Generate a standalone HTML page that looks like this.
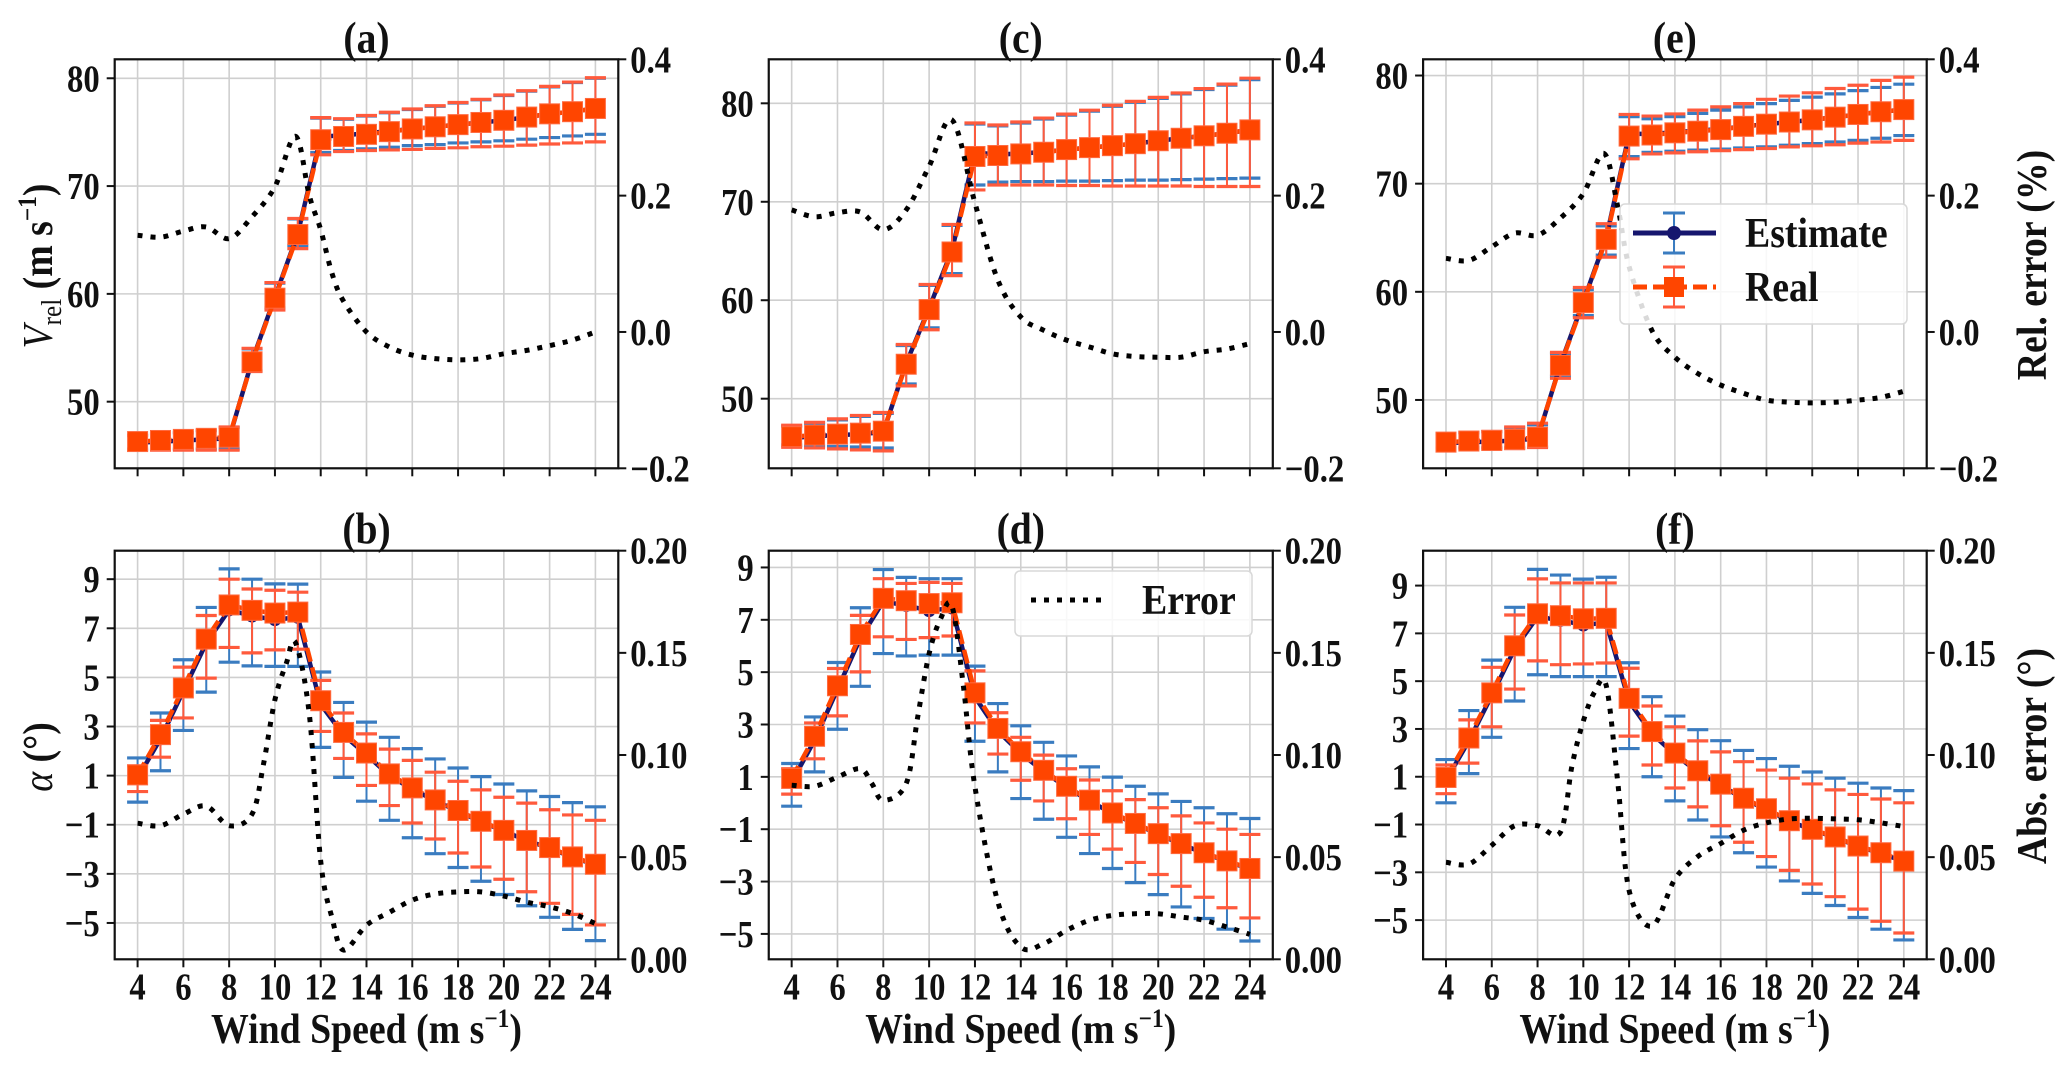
<!DOCTYPE html>
<html><head><meta charset="utf-8"><title>Wind speed estimate vs real</title>
<style>
html,body{margin:0;padding:0;background:#fff;}
svg{display:block;font-family:"Liberation Serif","DejaVu Serif",serif;font-weight:bold;}
</style></head>
<body>
<svg id="fig" xmlns="http://www.w3.org/2000/svg" width="2067" height="1070" viewBox="0 0 2067 1070">
<rect x="0" y="0" width="2067" height="1070" fill="#fff"/>
</svg>
<script>
const windSpeed=[4,5,6,7,8,9,10,11,12,13,14,15,16,17,18,19,20,21,22,23,24];
const xTicks=[4,6,8,10,12,14,16,18,20,22,24];
const vTicks=[50,60,70,80];
const alphaTicks=[-5,-3,-1,1,3,5,7,9];
const relTicks=[-0.2,0.0,0.2,0.4];
const absTicks=[0.00,0.05,0.10,0.15,0.20];

// Panel (a)
const aReal=[46.3,46.4,46.5,46.6,46.7,53.7,59.6,65.5,74.3,74.6,74.8,75.05,75.3,75.5,75.7,75.9,76.1,76.4,76.7,76.9,77.2];
const aEst=[46.2,46.3,46.4,46.5,46.6,53.8,59.7,65.6,74.6,74.7,74.9,75.1,75.3,75.5,75.7,75.9,76.1,76.4,76.7,76.9,77.2];
const aEstHi=[46.85,47.0,47.1,47.3,47.6,54.9,61.0,66.95,76.3,76.2,76.5,76.8,77.1,77.4,77.7,78.0,78.4,78.8,79.2,79.6,80.0];
const aEstLo=[45.6,45.6,45.6,45.6,45.6,52.9,58.7,64.5,73.1,73.3,73.45,73.6,73.75,73.85,74.0,74.1,74.2,74.35,74.5,74.65,74.8];
const aRealHi=[46.9,47.05,47.15,47.35,47.65,54.95,61.05,67.0,76.35,76.25,76.55,76.85,77.15,77.45,77.75,78.05,78.45,78.85,79.25,79.65,80.05];
const aRealLo=[45.5,45.5,45.5,45.5,45.5,52.8,58.5,64.2,72.9,73.2,73.3,73.35,73.4,73.5,73.55,73.65,73.7,73.8,73.9,74.0,74.1];
const aErrX=[4,5,6,7,8,9,10,10.9,11.5,12,12.5,13,14,15,16,17,18,19,20,21,22,23,24];
const aErrY=[0.142,0.139,0.148,0.154,0.137,0.169,0.213,0.287,0.2,0.15,0.085,0.045,0.0,-0.022,-0.034,-0.039,-0.041,-0.039,-0.032,-0.027,-0.02,-0.012,0.0];

// Panel (b)
const bReal=[1.03,2.67,4.57,6.56,7.95,7.73,7.62,7.66,4.05,2.76,1.92,1.07,0.5,0.01,-0.42,-0.86,-1.23,-1.64,-1.93,-2.31,-2.61];
const bEst=[0.9,2.5,4.45,6.4,7.75,7.5,7.35,7.45,3.9,2.65,1.85,1.0,0.45,-0.02,-0.45,-0.88,-1.25,-1.65,-1.95,-2.33,-2.63];
const bEstHi=[1.72,3.55,5.72,7.85,9.42,9.0,8.81,8.8,5.22,3.98,3.18,2.56,2.1,1.68,1.31,0.96,0.66,0.38,0.15,-0.1,-0.27];
const bEstLo=[-0.08,1.2,2.84,4.4,5.62,5.47,5.45,5.45,2.15,0.93,-0.04,-0.82,-1.53,-2.18,-2.74,-3.3,-3.84,-4.3,-4.77,-5.26,-5.72];
const bRealHi=[1.4,3.25,5.42,7.52,9.0,8.6,8.55,8.47,4.88,3.55,2.7,2.08,1.62,1.14,0.77,0.42,0.12,-0.12,-0.39,-0.6,-0.82];
const bRealLo=[0.35,1.75,3.35,4.97,6.22,6.0,6.12,6.15,2.8,1.7,0.6,-0.22,-0.93,-1.58,-2.15,-2.72,-3.22,-3.73,-4.2,-4.65,-5.08];
const bErrX=[4,5,6,7,8,9,9.5,10,10.5,10.9,11.5,12,12.5,13,14,15,16,17,18,19,20,21,22,23,24];
const bErrY=[0.0666,0.0654,0.071,0.075,0.0654,0.071,0.0955,0.127,0.145,0.155,0.12,0.048,0.02,0.0045,0.0167,0.023,0.029,0.032,0.033,0.033,0.031,0.028,0.0257,0.0224,0.0175];

// Panel (c)
const cReal=[46.14,46.3,46.4,46.5,46.7,53.5,59.05,64.9,74.6,74.7,74.86,75.03,75.3,75.5,75.7,75.9,76.2,76.45,76.7,76.96,77.3];
const cEst=[46.0,46.2,46.3,46.4,46.6,53.6,59.2,65.1,75.0,74.8,74.9,75.05,75.3,75.5,75.7,75.9,76.2,76.45,76.7,76.96,77.3];
const cEstHi=[47.2,47.5,47.85,48.2,48.5,55.4,61.5,67.6,77.9,77.7,78.0,78.4,78.8,79.2,79.7,80.1,80.5,80.95,81.4,81.85,82.4];
const cEstLo=[45.3,45.2,45.15,45.1,45.0,51.5,57.2,62.7,71.7,72.0,72.05,72.05,72.1,72.1,72.15,72.2,72.2,72.25,72.3,72.35,72.4];
const cRealHi=[47.3,47.6,47.95,48.3,48.6,55.5,61.6,67.7,78.0,77.8,78.1,78.5,78.9,79.3,79.8,80.2,80.6,81.05,81.5,81.95,82.55];
const cRealLo=[45.06,45.0,44.9,44.8,44.7,51.3,57.0,62.5,71.2,71.7,71.7,71.7,71.65,71.65,71.6,71.6,71.6,71.6,71.55,71.55,71.55];
const cErrX=[4,5,6,7,8,9,10,11,12,13,14,15,16,17,18,19,20,21,22,23,24];
const cErrY=[0.179,0.169,0.175,0.176,0.15,0.179,0.243,0.311,0.189,0.076,0.022,0.0025,-0.012,-0.022,-0.032,-0.036,-0.037,-0.037,-0.029,-0.025,-0.017];

// Panel (d)
const dReal=[0.94,2.55,4.48,6.44,7.82,7.73,7.62,7.65,4.21,2.85,1.96,1.25,0.64,0.11,-0.38,-0.78,-1.17,-1.55,-1.9,-2.21,-2.5];
const dEst=[0.8,2.4,4.35,6.3,7.7,7.55,7.35,7.45,4.05,2.75,1.9,1.2,0.6,0.08,-0.4,-0.8,-1.19,-1.57,-1.92,-2.23,-2.52];
const dEstHi=[1.51,3.29,5.37,7.46,8.92,8.62,8.57,8.57,5.23,3.8,2.95,2.32,1.8,1.38,0.99,0.64,0.35,0.06,-0.18,-0.41,-0.59];
const dEstLo=[-0.12,1.19,2.82,4.46,5.71,5.62,5.65,5.65,2.36,1.19,0.17,-0.62,-1.31,-1.93,-2.5,-3.04,-3.5,-3.97,-4.41,-4.82,-5.27];
const dRealHi=[1.31,3.06,5.14,7.17,8.57,8.39,8.43,8.39,5.05,3.45,2.51,1.83,1.31,0.88,0.47,0.13,-0.18,-0.49,-0.76,-1.0,-1.2];
const dRealLo=[0.34,1.69,3.33,5.01,6.35,6.25,6.32,6.38,3.06,1.87,0.87,0.08,-0.6,-1.2,-1.76,-2.27,-2.73,-3.18,-3.6,-4.0,-4.39];
const dErrX=[4,5,6,7,7.5,8,9,9.5,10,10.5,11,11.5,12,13,14,15,16,17,18,19,20,21,22,23,24];
const dErrY=[0.0852,0.0847,0.0892,0.0933,0.086,0.0778,0.086,0.1186,0.1496,0.1667,0.1728,0.1333,0.0843,0.028,0.006,0.0077,0.0142,0.0191,0.0215,0.0223,0.0223,0.0207,0.0191,0.0158,0.0122];

// Panel (e)
const eReal=[46.1,46.2,46.25,46.35,46.55,53.2,59.0,64.85,74.4,74.5,74.7,74.85,75.0,75.3,75.5,75.7,75.9,76.15,76.4,76.65,76.85];
const eEst=[46.0,46.1,46.15,46.25,46.45,53.3,59.1,65.0,74.6,74.6,74.75,74.9,75.05,75.3,75.5,75.7,75.9,76.15,76.4,76.65,76.85];
const eEstHi=[46.85,46.95,47.05,47.4,47.7,54.3,60.2,66.1,76.2,76.0,76.2,76.5,76.8,77.1,77.4,77.7,78.0,78.3,78.6,78.9,79.2];
const eEstLo=[45.6,45.6,45.6,45.6,45.7,52.2,57.8,63.4,72.5,72.9,73.0,73.1,73.2,73.3,73.4,73.55,73.7,73.85,74.0,74.2,74.45];
const eRealHi=[46.9,47.0,47.1,47.5,47.85,54.4,60.4,66.3,76.4,76.25,76.45,76.8,77.1,77.4,77.8,78.1,78.4,78.8,79.1,79.55,79.85];
const eRealLo=[45.5,45.5,45.5,45.5,45.6,52.0,57.6,63.2,72.3,72.75,72.85,72.95,73.05,73.15,73.25,73.4,73.5,73.6,73.75,73.85,74.0];
const eErrX=[4,5,6,7,8,9,10,10.9,11.5,12,13,14,15,16,17,18,19,20,21,22,23,24];
const eErrY=[0.108,0.105,0.125,0.145,0.142,0.167,0.203,0.262,0.184,0.096,0.002,-0.037,-0.061,-0.078,-0.09,-0.1,-0.103,-0.104,-0.103,-0.1,-0.096,-0.087];

// Panel (f)
const fReal=[0.97,2.62,4.51,6.48,7.82,7.74,7.61,7.63,4.28,2.89,1.99,1.25,0.69,0.1,-0.34,-0.84,-1.2,-1.52,-1.9,-2.18,-2.53];
const fEst=[0.85,2.5,4.4,6.35,7.7,7.55,7.35,7.45,4.15,2.8,1.93,1.2,0.65,0.07,-0.37,-0.86,-1.22,-1.54,-1.92,-2.2,-2.55];
const fEstHi=[1.72,3.77,5.88,8.09,9.68,9.44,9.27,9.35,5.77,4.35,3.54,2.97,2.51,2.1,1.76,1.44,1.2,0.94,0.73,0.53,0.42];
const fEstLo=[-0.09,1.13,2.65,4.17,5.27,5.19,5.19,5.19,2.18,1.0,-0.01,-0.81,-1.52,-2.18,-2.78,-3.36,-3.88,-4.39,-4.89,-5.38,-5.83];
const fRealHi=[1.49,3.38,5.58,7.77,9.28,9.11,9.11,9.11,5.54,3.96,3.09,2.5,2.04,1.63,1.28,0.94,0.7,0.45,0.26,0.07,-0.09];
const fRealLo=[0.29,1.57,3.09,4.67,5.85,5.69,5.72,5.76,2.7,1.49,0.53,-0.26,-1.05,-1.74,-2.34,-2.92,-3.49,-4.02,-4.54,-5.05,-5.54];
const fErrX=[4,5,6,7,8,9,9.5,10,10.5,11,11.5,12,13,14,15,16,17,18,19,20,21,22,23,24];
const fErrY=[0.0475,0.0466,0.0558,0.0654,0.0654,0.0622,0.0945,0.1166,0.131,0.134,0.087,0.0337,0.0162,0.0392,0.0503,0.0567,0.0632,0.0668,0.0687,0.069,0.0687,0.0683,0.0668,0.065];

const NS='http://www.w3.org/2000/svg';
const svg=document.getElementById('fig');
function mk(parent,tag,attrs,text){
  const el=document.createElementNS(NS,tag);
  for(const k in attrs) el.setAttribute(k,attrs[k]);
  if(text!==undefined) el.textContent=text;
  parent.appendChild(el);
  return el;
}
function txt(parent,x,y,anchor,size,str,scx){
  return mk(parent,'text',{x:0,y:0,transform:'translate('+x+','+y+') scale('+scx+',1)','text-anchor':anchor,'font-size':size,fill:'#111'},str);
}
const C_NAVY='#16166e', C_BLUE='#3a7cc0', C_OR='#ff4500', C_ORE='#ff5a3c';
const TICK_FS=38, TICK_SX=0.86;

function catmull(pts){
  let d='M'+pts[0][0].toFixed(1)+','+pts[0][1].toFixed(1);
  for(let i=0;i<pts.length-1;i++){
    const p0=pts[Math.max(0,i-1)],p1=pts[i],p2=pts[i+1],p3=pts[Math.min(pts.length-1,i+2)];
    const c1=[p1[0]+(p2[0]-p0[0])/6,p1[1]+(p2[1]-p0[1])/6];
    const c2=[p2[0]-(p3[0]-p1[0])/6,p2[1]-(p3[1]-p1[1])/6];
    d+=' C'+c1[0].toFixed(1)+','+c1[1].toFixed(1)+' '+c2[0].toFixed(1)+','+c2[1].toFixed(1)+' '+p2[0].toFixed(1)+','+p2[1].toFixed(1);
  }
  return d;
}

function panel(cfg,est,estLo,estHi,real,realLo,realHi,errX,errY){
  const g=mk(svg,'g',{});
  
  
  const L=cfg.L,R=cfg.R,T=cfg.T,B=cfg.B;
  const sx=v=>L+(v-3)/22*(R-L);
  const sy=v=>B-(v-cfg.yMin)/(cfg.yMax-cfg.yMin)*(B-T);
  const sr=v=>B-(v-cfg.rMin)/(cfg.rMax-cfg.rMin)*(B-T);
  const grid=mk(g,'g',{stroke:'#cfcfcf','stroke-width':1.6});
  
  
  xTicks.forEach(t=>{mk(grid,'line',{x1:sx(t),x2:sx(t),y1:T,y2:B});});
  cfg.yTicks.forEach(t=>{mk(grid,'line',{x1:L,x2:R,y1:sy(t),y2:sy(t)});});
  const ax=mk(g,'g',{stroke:'#111','stroke-width':2});
  
  
  xTicks.forEach(t=>{mk(ax,'line',{x1:sx(t),x2:sx(t),y1:B,y2:B+8});});
  cfg.yTicks.forEach(t=>{mk(ax,'line',{x1:L-8,x2:L,y1:sy(t),y2:sy(t)});});
  cfg.rTicks.forEach(t=>{mk(ax,'line',{x1:R,x2:R+8,y1:sr(t),y2:sr(t)});});
  const lab=mk(g,'g',{});
  
  
  if(cfg.bottom){
    xTicks.forEach(t=>{txt(lab,sx(t),B+40,'middle',TICK_FS,String(t),TICK_SX);});
    const xl=mk(g,'text',{x:0,y:0,transform:'translate('+((L+R)/2)+',1043) scale(0.9,1)','text-anchor':'middle','font-size':42,fill:'#111'});
    
    
    xl.appendChild(document.createTextNode('Wind Speed (m s'));
    mk(xl,'tspan',{dy:-16,'font-size':26},'−1');
    mk(xl,'tspan',{dy:16},')');
  }
  cfg.yTicks.forEach(t=>{txt(lab,L-15,sy(t)+13,'end',TICK_FS,String(t).replace('-','−'),TICK_SX);});
  cfg.rTicks.forEach(t=>{txt(lab,R+12,sr(t)+13,'start',TICK_FS,t.toFixed(cfg.rDec).replace('-','−'),TICK_SX);});
  const title=txt(g,(L+R)/2,T-7,'middle',44,'('+cfg.id+')',0.9);
  
  
  const cap=10.5;
  const eb=mk(g,'g',{stroke:C_BLUE,'stroke-width':2});
  
  
  windSpeed.forEach((w,i)=>{
    mk(eb,'line',{x1:sx(w),x2:sx(w),y1:sy(estLo[i]),y2:sy(estHi[i])});
    mk(eb,'line',{x1:sx(w)-cap,x2:sx(w)+cap,y1:sy(estLo[i]),y2:sy(estLo[i]),'stroke-width':3.2});
    mk(eb,'line',{x1:sx(w)-cap,x2:sx(w)+cap,y1:sy(estHi[i]),y2:sy(estHi[i]),'stroke-width':3.2});
  });
  const el=mk(g,'polyline',{points:windSpeed.map((w,i)=>sx(w)+','+sy(est[i])).join(' '),fill:'none',stroke:C_NAVY,'stroke-width':4.5});
  
  
  windSpeed.forEach((w,i)=>{
    const c=mk(g,'circle',{cx:sx(w),cy:sy(est[i]),r:6.5,fill:C_NAVY});
    
    
  });
  const rb=mk(g,'g',{stroke:C_ORE,'stroke-width':2});
  
  
  windSpeed.forEach((w,i)=>{
    mk(rb,'line',{x1:sx(w),x2:sx(w),y1:sy(realLo[i]),y2:sy(realHi[i])});
    mk(rb,'line',{x1:sx(w)-cap,x2:sx(w)+cap,y1:sy(realLo[i]),y2:sy(realLo[i]),'stroke-width':3.2});
    mk(rb,'line',{x1:sx(w)-cap,x2:sx(w)+cap,y1:sy(realHi[i]),y2:sy(realHi[i]),'stroke-width':3.2});
  });
  const rl=mk(g,'polyline',{points:windSpeed.map((w,i)=>sx(w)+','+sy(real[i])).join(' '),fill:'none',stroke:C_OR,'stroke-width':4.5,'stroke-dasharray':'14 6'});
  
  
  windSpeed.forEach((w,i)=>{
    const s=mk(g,'rect',{x:sx(w)-10,y:sy(real[i])-10,width:20,height:20,fill:C_OR,stroke:'#ff6a40','stroke-width':1});
    
    
  });
  const ep=mk(g,'path',{d:catmull(errX.map((x,i)=>[sx(x),sr(errY[i])])),fill:'none',stroke:'#000','stroke-width':5,'stroke-dasharray':'5 8'});
  
  
  const fr=mk(g,'rect',{x:L,y:T,width:R-L,height:B-T,fill:'none',stroke:'#111','stroke-width':2.2});
  
  
}

const topT=59.3,topB=468.3,botT=550.7,botB=959.3;
panel({id:'a',L:114.7,R:618.3,T:topT,B:topB,yMin:43.82,yMax:81.76,rMin:-0.2,rMax:0.4,yTicks:vTicks,rTicks:relTicks,rDec:1,bottom:false},aEst,aEstLo,aEstHi,aReal,aRealLo,aRealHi,aErrX,aErrY);
panel({id:'c',L:768.75,R:1272.8,T:topT,B:topB,yMin:42.93,yMax:84.47,rMin:-0.2,rMax:0.4,yTicks:vTicks,rTicks:relTicks,rDec:1,bottom:false},cEst,cEstLo,cEstHi,cReal,cRealLo,cRealHi,cErrX,cErrY);
panel({id:'e',L:1423.1,R:1926.7,T:topT,B:topB,yMin:43.68,yMax:81.5,rMin:-0.2,rMax:0.4,yTicks:vTicks,rTicks:relTicks,rDec:1,bottom:false},eEst,eEstLo,eEstHi,eReal,eRealLo,eRealHi,eErrX,eErrY);
panel({id:'b',L:114.7,R:618.3,T:botT,B:botB,yMin:-6.48,yMax:10.16,rMin:0,rMax:0.2,yTicks:alphaTicks,rTicks:absTicks,rDec:2,bottom:true},bEst,bEstLo,bEstHi,bReal,bRealLo,bRealHi,bErrX,bErrY);
panel({id:'d',L:768.75,R:1272.8,T:botT,B:botB,yMin:-5.97,yMax:9.64,rMin:0,rMax:0.2,yTicks:alphaTicks,rTicks:absTicks,rDec:2,bottom:true},dEst,dEstLo,dEstHi,dReal,dRealLo,dRealHi,dErrX,dErrY);
panel({id:'f',L:1423.1,R:1926.7,T:botT,B:botB,yMin:-6.64,yMax:10.46,rMin:0,rMax:0.2,yTicks:alphaTicks,rTicks:absTicks,rDec:2,bottom:true},fEst,fEstLo,fEstHi,fReal,fRealLo,fRealHi,fErrX,fErrY);

const yl1=mk(svg,'text',{x:0,y:0,transform:'translate(52,266) rotate(-90) scale(0.9,1)','text-anchor':'middle','font-size':42,fill:'#111'});


mk(yl1,'tspan',{'font-style':'italic','font-weight':'normal'},'V');
mk(yl1,'tspan',{dy:9,'font-size':28,'font-weight':'normal'},'rel');
mk(yl1,'tspan',{dy:-9},' (m s');
mk(yl1,'tspan',{dy:-16,'font-size':26},'−1');
mk(yl1,'tspan',{dy:16},')');
const yl2=mk(svg,'text',{x:0,y:0,transform:'translate(52,757) rotate(-90) scale(0.9,1)','text-anchor':'middle','font-size':42,fill:'#111'});


mk(yl2,'tspan',{'font-style':'italic','font-weight':'normal'},'α');
mk(yl2,'tspan',{},' (°)');
const yr1=mk(svg,'text',{x:0,y:0,transform:'translate(2046,265) rotate(-90) scale(0.9,1)','text-anchor':'middle','font-size':42,fill:'#111'},'Rel. error (%)');


const yr2=mk(svg,'text',{x:0,y:0,transform:'translate(2046,756) rotate(-90) scale(0.9,1)','text-anchor':'middle','font-size':42,fill:'#111'},'Abs. error (°)');



const lg=mk(svg,'g',{});


mk(lg,'rect',{x:1620,y:204,width:287,height:120,rx:5,fill:'#fff','fill-opacity':0.85,stroke:'#d8d8d8','stroke-width':1.5});
const le1=mk(lg,'g',{});


mk(le1,'line',{x1:1674,x2:1674,y1:213,y2:253,stroke:C_BLUE,'stroke-width':2});
mk(le1,'line',{x1:1663,x2:1685,y1:213,y2:213,stroke:C_BLUE,'stroke-width':3});
mk(le1,'line',{x1:1663,x2:1685,y1:253,y2:253,stroke:C_BLUE,'stroke-width':3});
mk(le1,'line',{x1:1633,x2:1716,y1:233,y2:233,stroke:C_NAVY,'stroke-width':5});
mk(le1,'circle',{cx:1674,cy:233,r:7,fill:C_NAVY});
txt(le1,1745,247,'start',42,'Estimate',0.9);
const le2=mk(lg,'g',{});


mk(le2,'line',{x1:1674,x2:1674,y1:267,y2:307,stroke:C_ORE,'stroke-width':2});
mk(le2,'line',{x1:1663,x2:1685,y1:267,y2:267,stroke:C_ORE,'stroke-width':3});
mk(le2,'line',{x1:1663,x2:1685,y1:307,y2:307,stroke:C_ORE,'stroke-width':3});
mk(le2,'line',{x1:1633,x2:1716,y1:287,y2:287,stroke:C_OR,'stroke-width':5,'stroke-dasharray':'14 6'});
mk(le2,'rect',{x:1664,y:277,width:20,height:20,fill:C_OR});
txt(le2,1745,301,'start',42,'Real',0.9);

const lg2=mk(svg,'g',{});


mk(lg2,'rect',{x:1015,y:571,width:237,height:65,rx:5,fill:'#fff','fill-opacity':0.85,stroke:'#d8d8d8','stroke-width':1.5});
mk(lg2,'line',{x1:1031,x2:1108,y1:600,y2:600,stroke:'#000','stroke-width':5,'stroke-dasharray':'5 8'});
txt(lg2,1142,614,'start',42,'Error',0.9);
</script>
</body></html>
